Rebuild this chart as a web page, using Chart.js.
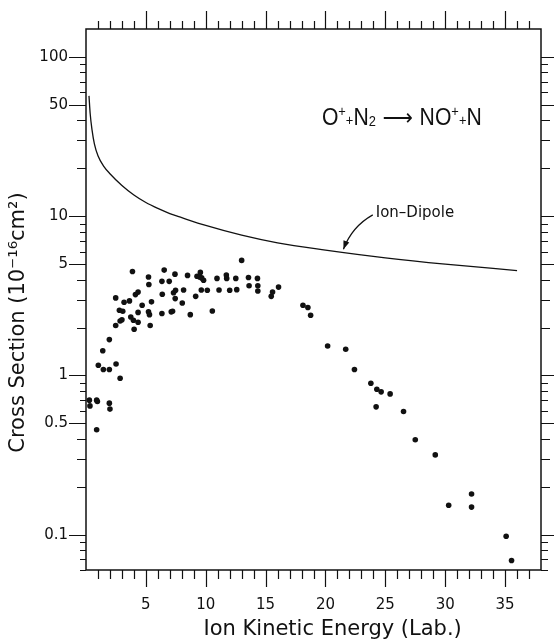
<!DOCTYPE html>
<html><head><meta charset="utf-8">
<script src="https://cdn.jsdelivr.net/npm/chart.js@4.4.1/dist/chart.umd.min.js"></script>
<style>html,body{margin:0;padding:0;background:#fff}#wrap{width:554px;height:640px}</style>
</head><body><div id="wrap"><canvas id="c" width="554" height="640"></canvas></div>
<script>
// ---- data ----
const xTickLabels = [5, 10, 15, 20, 25, 30, 35];
const yTickLabels = [0.1, 0.5, 1, 5, 10, 50, 100];

const dipoleEnergy = [0.25, 0.35, 0.5, 0.7, 1.0, 1.5, 2, 3, 4, 5, 6, 7, 8, 10, 13, 16, 20, 25, 30, 36];
const dipoleCross  = [57, 44, 35, 28.5, 24, 20.5, 18.5, 15.6, 13.6, 12.2, 11.2, 10.4, 9.8, 8.75, 7.6, 6.8, 6.13, 5.48, 5.0, 4.56];

const measuredEnergy = [0.28, 0.33, 0.89, 0.95, 1.95, 2.0, 0.89,
  1.03, 1.45, 1.95, 2.51, 2.85, 1.40, 1.95, 2.48, 2.48,
  2.85, 3.0, 2.79, 3.07, 3.18, 3.63, 3.74, 3.96, 4.02,
  3.88, 4.13, 4.35, 4.35, 4.35, 4.69, 5.22, 5.25, 5.22,
  5.3, 5.36, 5.47, 6.34, 6.34, 6.37, 6.53, 6.95, 7.12,
  7.23, 7.31, 7.43, 7.48, 7.45, 8.04, 8.15, 8.48, 8.71,
  9.16, 9.27, 9.49, 9.55, 9.66, 9.82, 9.63, 10.13, 10.55,
  10.94, 11.11, 11.72, 11.75, 12.0, 12.51, 12.59, 13.0,
  13.57, 13.62, 14.32, 14.35, 14.35,
  15.47, 15.58, 16.08, 18.12, 18.53, 18.76, 20.18, 21.69,
  22.42, 23.79, 24.29, 24.65, 25.4, 24.23, 26.52, 27.5,
  29.17, 30.29, 32.2, 32.2, 35.09, 35.54];
const measuredCross = [0.70, 0.644, 0.70, 0.686, 0.67, 0.615, 0.456,
  1.16, 1.09, 1.09, 1.18, 0.96, 1.43, 1.68, 2.06, 3.07,
  2.20, 2.24, 2.57, 2.53, 2.88, 2.94, 2.33, 2.22, 1.95,
  4.5, 3.22, 3.34, 2.49, 2.16, 2.76, 4.15, 3.73, 2.51,
  2.41, 2.06, 2.90, 3.90, 2.45, 3.24, 4.59, 3.90, 2.51,
  2.53, 3.31, 4.33, 3.43, 3.04, 2.85, 3.44, 4.25, 2.41,
  3.14, 4.2, 4.15, 4.44, 4.1, 3.96, 3.44, 3.43, 2.54,
  4.07, 3.44, 4.27, 4.07, 3.43, 4.07, 3.46, 5.28,
  4.12, 3.66, 4.07, 3.66, 3.39,
  3.14, 3.34, 3.59, 2.76, 2.67, 2.39, 1.53, 1.46,
  1.09, 0.894, 0.82, 0.789, 0.766, 0.635, 0.594, 0.395,
  0.317, 0.153, 0.18, 0.149, 0.0977, 0.0689];

// annotation anchors in data units
const reactionAnchor = [19.7, 37.4];
const dipoleLabelAnchor = [24.2, 9.94];
const arrowPath = [[23.95, 10.2], [22.2, 8.6], [21.5, 6.2]];

const INK = '#111';
const fmt = v => (v < 1 ? v.toFixed(1) : String(v));

const decor = {
  id: 'decor',
  afterDraw(chart) {
    const {ctx, chartArea: {left, right, top, bottom}, scales: {x, y}} = chart;
    ctx.save();
    ctx.strokeStyle = INK;
    ctx.lineWidth = 1.5;
    ctx.strokeRect(left, top, right - left, bottom - top);
    ctx.lineWidth = 1.2;
    ctx.beginPath();
    for (let e = 1; e < x.max; e++) {
      const px = Math.round(x.getPixelForValue(e)) + 0.5;
      const major = e % 5 === 0;
      ctx.moveTo(px, bottom); ctx.lineTo(px, bottom + (major ? 17 : 9));
      ctx.moveTo(px, top); ctx.lineTo(px, top - (major ? 18 : 8));
    }
    for (let ex = -2; ex <= 2; ex++) {
      for (let k = 1; k <= 9; k++) {
        const v = Number((k * Math.pow(10, ex)).toPrecision(3));
        if (v < y.min || v > y.max) continue;
        const py = Math.round(y.getPixelForValue(v)) + 0.5;
        const major = yTickLabels.includes(v);
        const L = major ? 17 : (k <= 4 ? 9 : 6);
        const R = major ? 13 : (k <= 4 ? 9 : 7);
        ctx.moveTo(left - L, py); ctx.lineTo(left, py);
        ctx.moveTo(right, py); ctx.lineTo(right + R, py);
      }
    }
    ctx.stroke();

    ctx.fillStyle = INK;
    // x axis title
    ctx.font = '21px "DejaVu Sans", sans-serif';
    ctx.textAlign = 'center';
    ctx.textBaseline = 'middle';
    ctx.fillText('Ion Kinetic Energy (Lab.)', x.getPixelForValue(20.6), 630);
    // y axis title
    ctx.save();
    ctx.translate(19, y.getPixelForValue(2.15));
    ctx.rotate(-Math.PI / 2);
    ctx.fillText('Cross Section (10\u207B\u00B9\u2076cm\u00B2)', 0, 0);
    ctx.restore();

    // reaction label
    const rx = x.getPixelForValue(reactionAnchor[0]);
    const ry = y.getPixelForValue(reactionAnchor[1]);
    ctx.save();
    ctx.translate(rx, ry);
    ctx.scale(0.92, 1);
    ctx.textAlign = 'left';
    ctx.textBaseline = 'alphabetic';
    const big = '23px "Liberation Sans", Arial, sans-serif';
    const small = '14px "Liberation Sans", Arial, sans-serif';
    const parts = [['O', big, 0], ['+', small, -9], ['+', small, 0], ['N', big, 0], ['2', small, 1],
      [' \u27F6 ', '23px "DejaVu Sans", sans-serif', 0], ['NO', big, 0], ['+', small, -9], ['+', small, 0], ['N', big, 0]];
    let cx = 0;
    for (const [t, f, dy] of parts) {
      ctx.font = f;
      ctx.fillText(t, cx, dy);
      cx += ctx.measureText(t).width;
    }
    ctx.restore();

    // Ion-Dipole label and arrow
    ctx.font = '15px "DejaVu Sans", sans-serif';
    ctx.textAlign = 'left';
    ctx.textBaseline = 'alphabetic';
    ctx.fillText('Ion\u2013Dipole', x.getPixelForValue(dipoleLabelAnchor[0]), y.getPixelForValue(dipoleLabelAnchor[1]));
    const p = arrowPath.map(([e, s]) => [x.getPixelForValue(e), y.getPixelForValue(s)]);
    ctx.lineWidth = 1.2;
    ctx.beginPath();
    ctx.moveTo(p[0][0], p[0][1]);
    ctx.quadraticCurveTo(p[1][0], p[1][1], p[2][0], p[2][1]);
    ctx.stroke();
    const ang = Math.atan2(p[2][1] - p[1][1], p[2][0] - p[1][0]);
    ctx.beginPath();
    ctx.moveTo(p[2][0], p[2][1]);
    ctx.lineTo(p[2][0] - 9 * Math.cos(ang - 0.35), p[2][1] - 9 * Math.sin(ang - 0.35));
    ctx.lineTo(p[2][0] - 9 * Math.cos(ang + 0.35), p[2][1] - 9 * Math.sin(ang + 0.35));
    ctx.closePath();
    ctx.fill();
    ctx.restore();
  }
};

new Chart(document.getElementById('c'), {
  type: 'scatter',
  data: {
    datasets: [
      {
        label: 'Ion-Dipole',
        data: dipoleEnergy.map((e, i) => ({x: e, y: dipoleCross[i]})),
        showLine: true,
        borderColor: INK,
        borderWidth: 1.3,
        pointRadius: 0,
        cubicInterpolationMode: 'monotone'
      },
      {
        label: 'Measured',
        data: measuredEnergy.map((e, i) => ({x: e, y: measuredCross[i]})),
        showLine: false,
        pointRadius: 2.8,
        pointBackgroundColor: INK,
        pointBorderWidth: 0
      }
    ]
  },
  options: {
    responsive: false,
    animation: false,
    devicePixelRatio: 1,
    layout: {padding: {top: 29, right: 13, left: 0, bottom: 0}},
    plugins: {legend: {display: false}, tooltip: {enabled: false}},
    scales: {
      x: {
        type: 'linear', min: 0, max: 38,
        afterBuildTicks: s => { s.ticks = xTickLabels.map(v => ({value: v})); },
        afterFit: s => { s.height = 70; },
        grid: {display: false, drawTicks: false},
        border: {display: false},
        ticks: {color: INK, font: {family: '"DejaVu Sans", sans-serif', size: 15}, padding: 26, maxRotation: 0, autoSkip: false},
        title: {display: false}
      },
      y: {
        type: 'logarithmic', min: 0.06, max: 150,
        afterBuildTicks: s => { s.ticks = yTickLabels.map(v => ({value: v})); },
        afterFit: s => { s.width = 86; },
        grid: {display: false, drawTicks: false},
        border: {display: false},
        ticks: {color: INK, font: {family: '"DejaVu Sans", sans-serif', size: 15}, padding: 18, autoSkip: false, callback: v => fmt(v)},
        title: {display: false}
      }
    }
  },
  plugins: [decor]
});
</script>
</body></html>
